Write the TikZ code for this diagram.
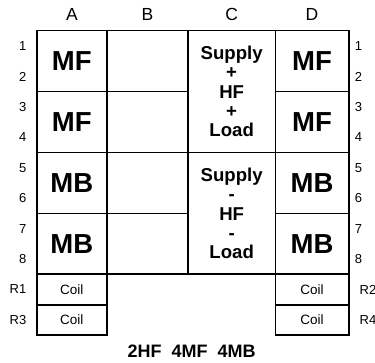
\documentclass[tikz,border=0pt]{standalone}
\usepackage{fontspec}
\setmainfont{Liberation Sans}
\begin{document}
\begin{tikzpicture}[x=1pt,y=-1pt,
  cell/.style={draw=black, line width=1.6pt, rectangle, inner sep=0pt, outer sep=0pt},
  colA/.style={minimum width=70.3pt},
  colB/.style={minimum width=81pt},
  colC/.style={minimum width=87.3pt},
  colD/.style={minimum width=73.4pt},
  bigrow/.style={minimum height=60.9pt},
  tallrow/.style={minimum height=121.8pt},
  coilrow/.style={minimum height=30.45pt},
  bigtext/.style={font=\fontsize{27.5}{29}\selectfont\bfseries},
  ctext/.style={font=\fontsize{18.6}{19.3}\selectfont\bfseries, align=center},
  coiltext/.style={font=\fontsize{13.5}{15}\selectfont},
  header/.style={font=\fontsize{17.5}{19}\selectfont, inner sep=0pt},
  rowlab/.style={font=\fontsize{13}{15}\selectfont, inner sep=0pt},
  caption/.style={font=\fontsize{18}{20}\selectfont\bfseries, inner sep=0pt}
]
\useasboundingbox (0,0) rectangle (375,363);

% column headers
\node[header] (hA) at (71.85,14) {A};
\node[header] (hB) at (147.5,14) {B};
\node[header] (hC) at (231.65,14) {C};
\node[header] (hD) at (312,14) {D};

% column A
\node[cell,colA,bigrow,bigtext] (A1) at (71.85,61.15) {MF};
\node[cell,colA,bigrow,bigtext] (A2) at (71.85,122.05) {MF};
\node[cell,colA,bigrow,bigtext] (A3) at (71.85,182.95) {MB};
\node[cell,colA,bigrow,bigtext] (A4) at (71.85,243.85) {MB};
\node[cell,colA,coilrow,coiltext] (A5) at (71.85,289.5) {Coil};
\node[cell,colA,coilrow,coiltext] (A6) at (71.85,319.95) {Coil};

% column B
\node[cell,colB,bigrow] (B1) at (147.5,61.15) {};
\node[cell,colB,bigrow] (B2) at (147.5,122.05) {};
\node[cell,colB,bigrow] (B3) at (147.5,182.95) {};
\node[cell,colB,bigrow] (B4) at (147.5,243.85) {};

% column C
\node[cell,colC,tallrow,ctext] (C1) at (231.65,91.6) {Supply\\+\\HF\\+\\Load};
\node[cell,colC,tallrow,ctext] (C2) at (231.65,213.4) {Supply\\-\\HF\\-\\Load};

% column D
\node[cell,colD,bigrow,bigtext] (D1) at (312,61.15) {MF};
\node[cell,colD,bigrow,bigtext] (D2) at (312,122.05) {MF};
\node[cell,colD,bigrow,bigtext] (D3) at (312,182.95) {MB};
\node[cell,colD,bigrow,bigtext] (D4) at (312,243.85) {MB};
\node[cell,colD,coilrow,coiltext] (D5) at (312,289.5) {Coil};
\node[cell,colD,coilrow,coiltext] (D6) at (312,319.95) {Coil};

% left row labels
\node[rowlab,anchor=east] (l1) at (26.5,46) {1};
\node[rowlab,anchor=east] (l2) at (26.5,76.5) {2};
\node[rowlab,anchor=east] (l3) at (26.5,106.9) {3};
\node[rowlab,anchor=east] (l4) at (26.5,137.4) {4};
\node[rowlab,anchor=east] (l5) at (26.5,167.8) {5};
\node[rowlab,anchor=east] (l6) at (26.5,198.3) {6};
\node[rowlab,anchor=east] (l7) at (26.5,228.7) {7};
\node[rowlab,anchor=east] (l8) at (26.5,259.1) {8};
\node[rowlab,anchor=east] (lR1) at (26.5,289.5) {R1};
\node[rowlab,anchor=east] (lR3) at (26.5,319.95) {R3};

% right row labels
\node[rowlab] (r1) at (358.5,46) {1};
\node[rowlab] (r2) at (358.5,76.5) {2};
\node[rowlab] (r3) at (358.5,106.9) {3};
\node[rowlab] (r4) at (358.5,137.4) {4};
\node[rowlab] (r5) at (358.5,167.8) {5};
\node[rowlab] (r6) at (358.5,198.3) {6};
\node[rowlab] (r7) at (358.5,228.7) {7};
\node[rowlab] (r8) at (358.5,259.1) {8};
\node[rowlab,anchor=west] (rR2) at (359.5,289.5) {R2};
\node[rowlab,anchor=west] (rR4) at (359.5,319.95) {R4};

% caption
\node[caption] (cap) at (191.7,351.3) {2HF\hspace{10pt}4MF\hspace{10pt}4MB};
\end{tikzpicture}
\end{document}
